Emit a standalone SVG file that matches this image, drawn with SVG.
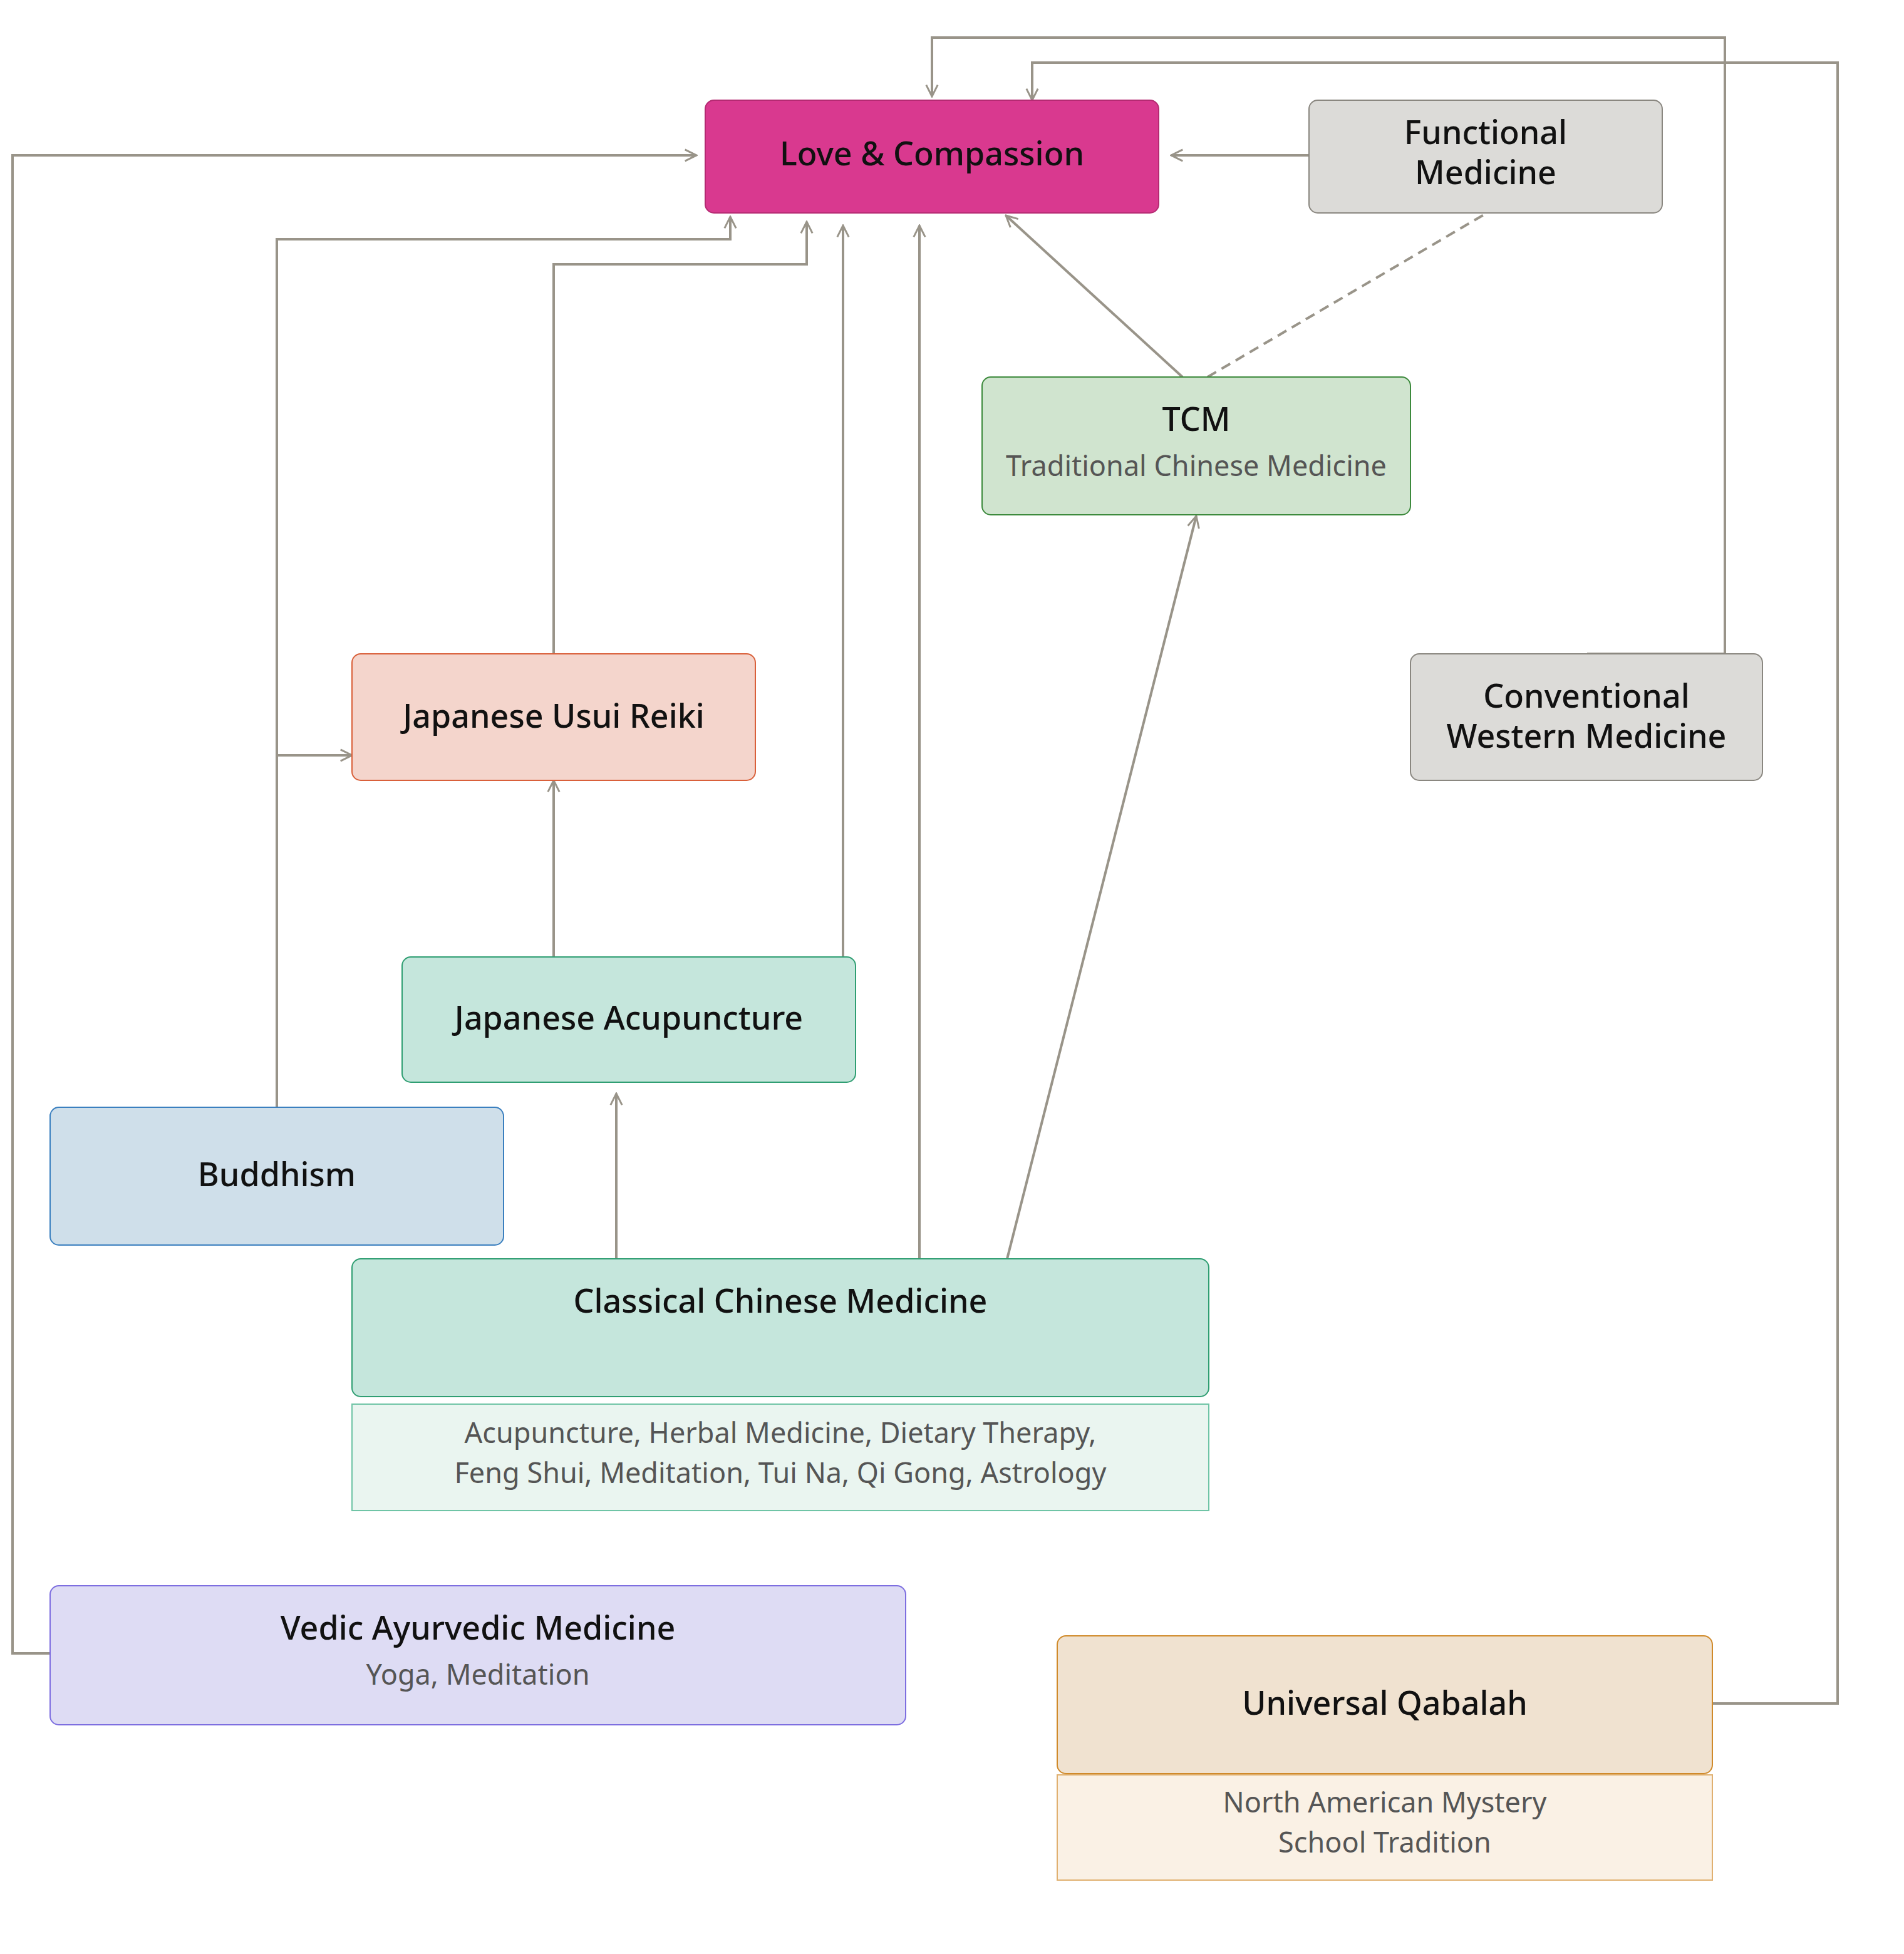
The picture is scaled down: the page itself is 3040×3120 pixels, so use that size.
<svg xmlns="http://www.w3.org/2000/svg" width="3040" height="3120" viewBox="0 0 3040 3120">
<defs>
<marker id="a" viewBox="0 0 12 12" refX="11" refY="6" markerWidth="22" markerHeight="22" markerUnits="userSpaceOnUse" orient="auto"><path d="M1,1 L11,6 L1,11" fill="none" stroke="#999489" stroke-width="1.6"/></marker>
<style>
.c{fill:none;stroke:#999489;stroke-width:4}
.t{font-family:"Noto Sans","Liberation Sans",sans-serif;font-size:52px;font-weight:500;fill:#111;text-anchor:middle}
.s{font-family:"Noto Sans","Liberation Sans",sans-serif;font-size:45px;fill:#555;text-anchor:middle}
</style>
</defs>
<rect width="3040" height="3120" fill="#fff"/>
<g id="connectors">
<path class="c" d="M80,2640 H20 V248 H1112" marker-end="url(#a)"/>
<path class="c" d="M442,1768 V382 H1166 V346" marker-end="url(#a)"/>
<path class="c" d="M442,1206 H562" marker-end="url(#a)"/>
<path class="c" d="M884,1044 V422 H1288 V354" marker-end="url(#a)"/>
<path class="c" d="M1346,1528 V360" marker-end="url(#a)"/>
<path class="c" d="M1468,2010 V360" marker-end="url(#a)"/>
<path class="c" d="M1888,602 L1606,344" marker-end="url(#a)"/>
<path class="c" d="M1928,602 L2374,340" stroke="#b5b2ab" stroke-dasharray="16,10"/>
<path class="c" d="M2090,248 H1870" marker-end="url(#a)"/>
<path class="c" d="M2534,1044 H2754 V60 H1488 V154" marker-end="url(#a)"/>
<path class="c" d="M2734,2720 H2934 V100 H1648 V160" marker-end="url(#a)"/>
<path class="c" d="M884,1528 V1246" marker-end="url(#a)"/>
<path class="c" d="M984,2010 V1746" marker-end="url(#a)"/>
<path class="c" d="M1608,2010 L1910,824" marker-end="url(#a)"/>
</g>
<g id="love"><rect x="1126" y="160" width="724" height="180" rx="14" fill="#d9398f" stroke="#b52a72" stroke-width="2"/><text class="t" x="1488" y="264">Love &amp; Compassion</text></g>
<g id="functional"><rect x="2090" y="160" width="564" height="180" rx="14" fill="#dcdbd8" stroke="#8a8780" stroke-width="2"/><text class="t" x="2372" y="230">Functional</text><text class="t" x="2372" y="294">Medicine</text></g>
<g id="tcm"><rect x="1568" y="602" width="684" height="220" rx="14" fill="#d0e4cf" stroke="#3d8a3d" stroke-width="2"/><text class="t" x="1910" y="688">TCM</text><text class="s" x="1910" y="760">Traditional Chinese Medicine</text></g>
<g id="conventional"><rect x="2252" y="1044" width="562" height="202" rx="14" fill="#dcdbd8" stroke="#8a8780" stroke-width="2"/><text class="t" x="2533" y="1130">Conventional</text><text class="t" x="2533" y="1194">Western Medicine</text></g>
<g id="reiki"><rect x="562" y="1044" width="644" height="202" rx="14" fill="#f4d5cc" stroke="#d9603a" stroke-width="2"/><text class="t" x="884" y="1162">Japanese Usui Reiki</text></g>
<g id="jacu"><rect x="642" y="1528" width="724" height="200" rx="14" fill="#c5e6dc" stroke="#2f9e72" stroke-width="2"/><text class="t" x="1004" y="1644">Japanese Acupuncture</text></g>
<g id="buddhism"><rect x="80" y="1768" width="724" height="220" rx="14" fill="#cfdfea" stroke="#3a7fbf" stroke-width="2"/><text class="t" x="442" y="1894">Buddhism</text></g>
<g id="ccm"><rect x="562" y="2010" width="1368" height="220" rx="14" fill="#c5e6dc" stroke="#2f9e72" stroke-width="2"/><text class="t" x="1246" y="2096">Classical Chinese Medicine</text>
<rect x="562" y="2242" width="1368" height="170" fill="#eaf5f0" stroke="#6fc4a6" stroke-width="2"/><text class="s" x="1246" y="2304">Acupuncture, Herbal Medicine, Dietary Therapy,</text><text class="s" x="1246" y="2368">Feng Shui, Meditation, Tui Na, Qi Gong, Astrology</text></g>
<g id="vedic"><rect x="80" y="2532" width="1366" height="222" rx="14" fill="#dedcf4" stroke="#7d6ee0" stroke-width="2"/><text class="t" x="763" y="2618">Vedic Ayurvedic Medicine</text><text class="s" x="763" y="2690">Yoga, Meditation</text></g>
<g id="qabalah"><rect x="1688" y="2612" width="1046" height="220" rx="14" fill="#f0e2d0" stroke="#d08a2a" stroke-width="2"/><text class="t" x="2211" y="2738">Universal Qabalah</text>
<rect x="1688" y="2834" width="1046" height="168" fill="#faf1e5" stroke="#e0b070" stroke-width="2"/><text class="s" x="2211" y="2894">North American Mystery</text><text class="s" x="2211" y="2958">School Tradition</text></g>
</svg>
